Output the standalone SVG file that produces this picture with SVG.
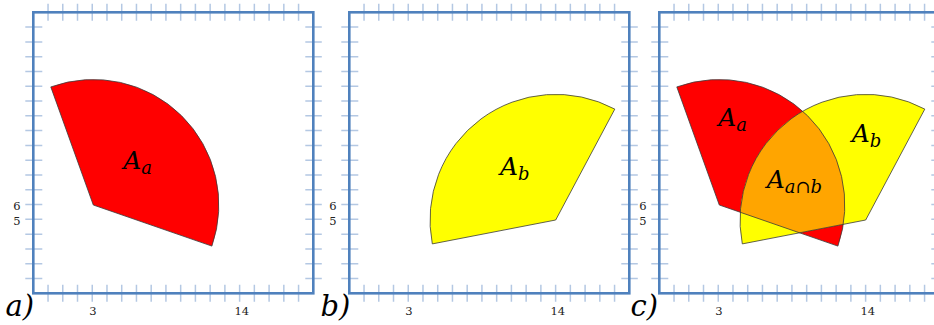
<svg xmlns="http://www.w3.org/2000/svg" width="934" height="325" viewBox="0 0 934 325">
<style>
.frame{fill:none;stroke:#4f81bd;stroke-width:2.6}
.tick{fill:none;stroke:#b4c8e3;stroke-width:1.5}
.num{font-family:"DejaVu Serif","Liberation Serif",serif;font-size:11.5px;fill:#222;text-anchor:middle}
.lab{font-family:"DejaVu Serif","Liberation Serif",serif;font-style:italic;font-size:29px;fill:#000}
.sym{font-family:"DejaVu Serif","Liberation Serif",serif;font-style:italic;font-size:25px;fill:#000}
.sub{font-size:18px}
.red{fill:#ff0000}
.yel{fill:#ffff00}
.org{fill:#ffa500}
.edge{fill:none;stroke:#3a3a3a;stroke-width:0.8;stroke-linejoin:round}
</style>
<defs>
<path id="ticks" d="M14.74,-8.5v17M29.47,-8.5v17M44.21,-8.5v17M58.95,-8.5v17M73.68,-8.5v17M88.42,-8.5v17M103.16,-8.5v17M117.89,-8.5v17M132.63,-8.5v17M147.37,-8.5v17M162.11,-8.5v17M176.84,-8.5v17M191.58,-8.5v17M206.32,-8.5v17M221.05,-8.5v17M235.79,-8.5v17M250.53,-8.5v17M265.26,-8.5v17
M14.74,272.5v17M29.47,272.5v17M44.21,272.5v17M58.95,272.5v17M73.68,272.5v17M88.42,272.5v17M103.16,272.5v17M117.89,272.5v17M132.63,272.5v17M147.37,272.5v17M162.11,272.5v17M176.84,272.5v17M191.58,272.5v17M206.32,272.5v17M221.05,272.5v17M235.79,272.5v17M250.53,272.5v17M265.26,272.5v17
M-8,14.79h17M-8,29.58h17M-8,44.37h17M-8,59.16h17M-8,73.95h17M-8,88.74h17M-8,103.53h17M-8,118.32h17M-8,133.11h17M-8,147.9h17M-8,162.69h17M-8,177.48h17M-8,192.27h17M-8,207.06h17M-8,221.85h17M-8,236.64h17M-8,251.43h17M-8,266.22h17
M272,14.79h16.5M272,29.58h16.5M272,44.37h16.5M272,59.16h16.5M272,73.95h16.5M272,88.74h16.5M272,103.53h16.5M272,118.32h16.5M272,133.11h16.5M272,147.9h16.5M272,162.69h16.5M272,177.48h16.5M272,192.27h16.5M272,207.06h16.5M272,221.85h16.5M272,236.64h16.5M272,251.43h16.5M272,266.22h16.5"/>
<path id="secA" d="M60,192.7 L17.5,74.6 A125.5 125.5 0 0 1 178.6,233.8 Z"/>
<path id="secB" d="M206.4,207.7 L83,231.6 A125.7 125.7 0 0 1 265.5,96.8 Z"/>
<clipPath id="clipB" clipPathUnits="userSpaceOnUse">
<path d="M206.4,207.7 L83,231.6 A125.7 125.7 0 0 1 265.5,96.8 Z"/>
</clipPath>
</defs>

<g id="panel-a" transform="translate(33.3,12.3)">
<use href="#ticks" class="tick"/>
<rect class="frame" x="0" y="0" width="280" height="281"/>
<text class="num" x="-16.5" y="197.5">6</text>
<text class="num" x="-16.5" y="213">5</text>
<text class="num" x="59.5" y="303">3</text>
<text class="num" x="208.4" y="303">14</text>
<g id="sector-a">
<use href="#secA" class="red"/>
<use href="#secA" class="edge"/>
<text class="sym" x="90" y="157">A<tspan class="sub" dy="5">a</tspan></text>
</g>
</g>

<g id="panel-b" transform="translate(349.3,12.3)">
<use href="#ticks" class="tick"/>
<rect class="frame" x="0" y="0" width="280" height="281"/>
<text class="num" x="-16.5" y="197.5">6</text>
<text class="num" x="-16.5" y="213">5</text>
<text class="num" x="59.5" y="303">3</text>
<text class="num" x="208.4" y="303">14</text>
<g id="sector-b">
<use href="#secB" class="yel"/>
<use href="#secB" class="edge"/>
<text class="sym" x="150.7" y="162.7">A<tspan class="sub" dy="5">b</tspan></text>
</g>
</g>

<g id="panel-c" transform="translate(659.3,12.3)">
<use href="#ticks" class="tick"/>
<rect class="frame" x="0" y="0" width="280" height="281"/>
<text class="num" x="-16.5" y="197.5">6</text>
<text class="num" x="-16.5" y="213">5</text>
<text class="num" x="59.5" y="303">3</text>
<text class="num" x="208.4" y="303">14</text>
<g id="sector-c-a">
<use href="#secA" class="red"/>
</g>
<g id="sector-c-b">
<use href="#secB" class="yel"/>
</g>
<g id="sector-c-ab">
<use href="#secA" class="org" clip-path="url(#clipB)"/>
</g>
<use href="#secA" class="edge"/>
<use href="#secB" class="edge"/>
<text class="sym" x="59" y="114">A<tspan class="sub" dy="5">a</tspan></text>
<text class="sym" x="192.4" y="130">A<tspan class="sub" dy="5">b</tspan></text>
<text class="sym" x="107.4" y="176">A<tspan class="sub" dy="5">a∩b</tspan></text>
</g>

<text class="lab" x="5.5" y="316">a)</text>
<text class="lab" x="320.5" y="316">b)</text>
<text class="lab" x="630.5" y="316">c)</text>
</svg>
